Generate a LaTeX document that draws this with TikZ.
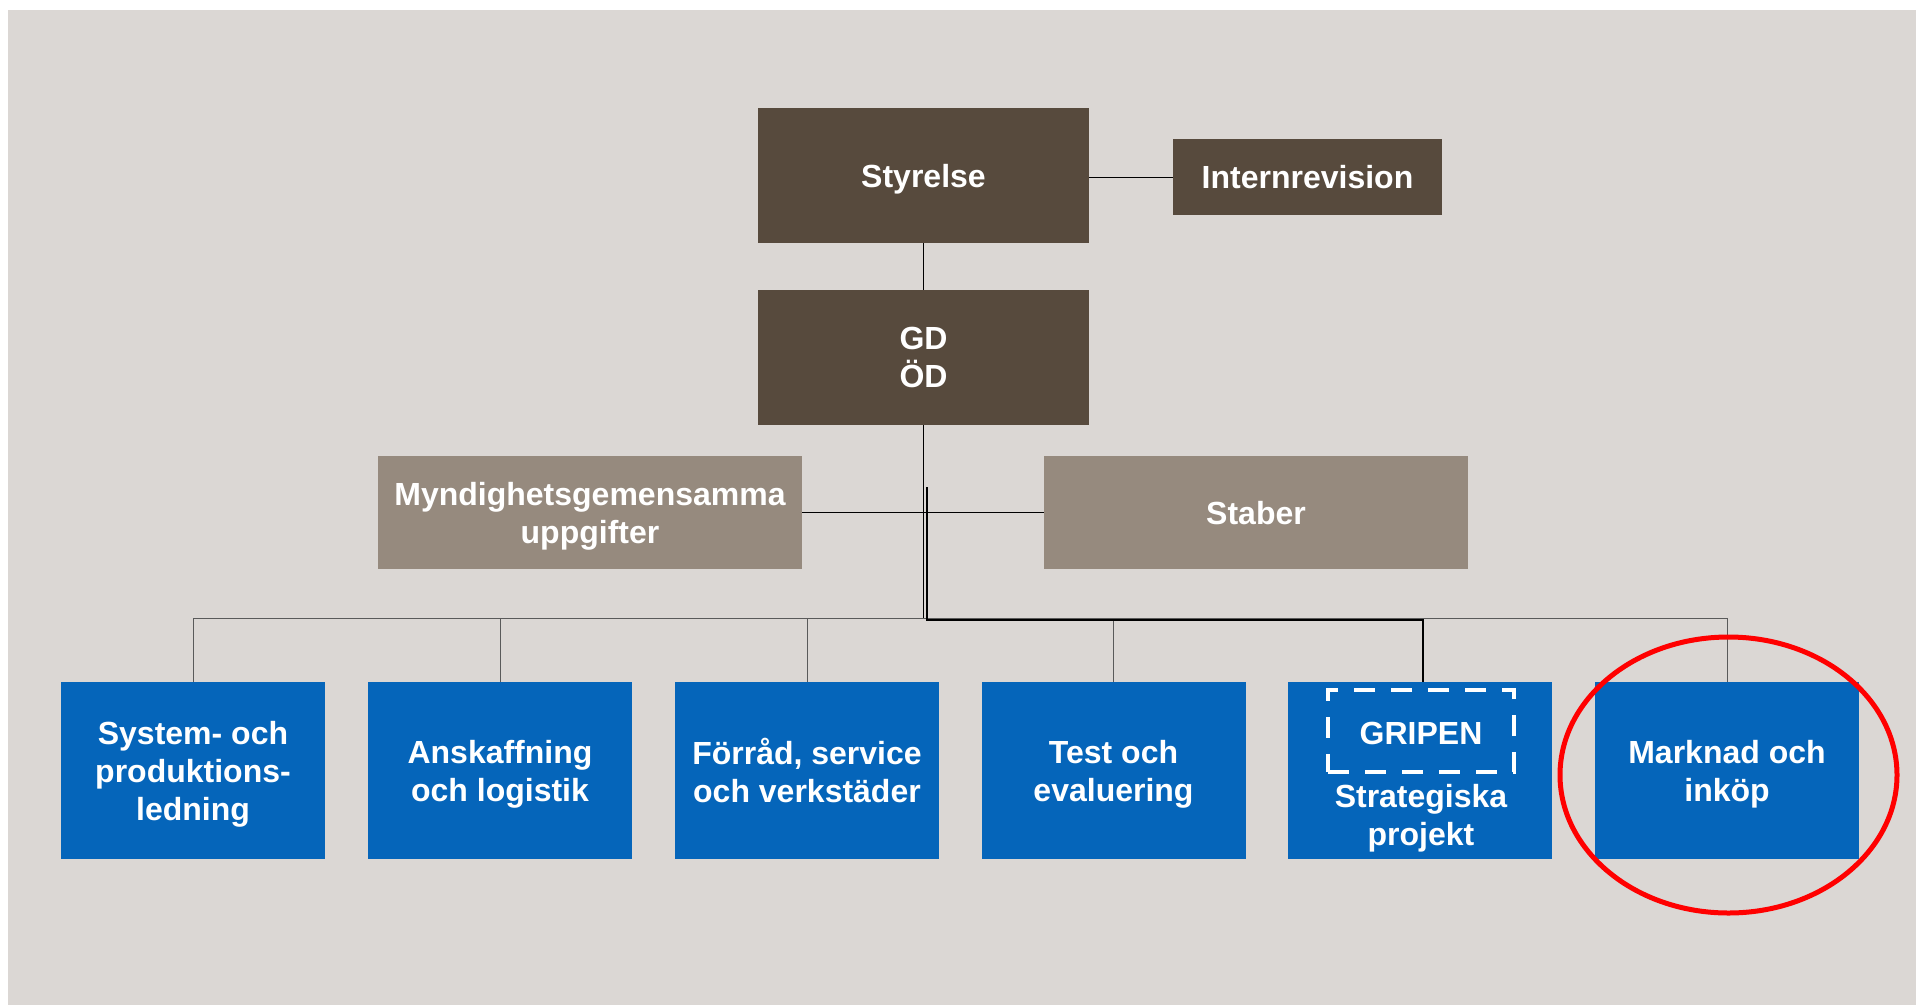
\documentclass[tikz,border=0pt]{standalone}
\usepackage{fontspec}
\setmainfont{Liberation Sans}
\definecolor{bgc}{HTML}{DBD7D4}
\definecolor{darkc}{HTML}{574A3D}
\definecolor{midc}{HTML}{968A7E}
\definecolor{bluec}{HTML}{0565BA}
\definecolor{linec}{HTML}{5A5A5A}
\definecolor{redc}{HTML}{FF0000}
\begin{document}
\begin{tikzpicture}[x=1pt,y=-1pt,
  box/.style={rectangle, inner sep=0pt, text=white, align=center, text depth=0pt,
    font=\bfseries\fontsize{32}{38}\selectfont},
  darkbox/.style={box, fill=darkc},
  midbox/.style={box, fill=midc},
  bluebox/.style={box, fill=bluec, minimum width=264pt, minimum height=177pt},
  conn/.style={draw=black, line width=1pt},
  branch/.style={draw=linec, line width=1pt},
  thickconn/.style={draw=black, line width=2pt},
  gripenbox/.style={rectangle, draw=white, line width=4.5pt, dash pattern=on 21pt off 16pt,
    minimum width=186pt, minimum height=82pt, inner sep=0pt},
  marker/.style={draw=redc, line width=5pt}
]
\useasboundingbox (0,0) rectangle (1916,1005);
\fill[white] (0,0) rectangle (1916,1005);
\fill[bgc] (8,10) rectangle (1916,1005);

% top levels
\node[darkbox, minimum width=331pt, minimum height=135pt] (sty) at (923.5,175.5) {Styrelse};
\node[darkbox, minimum width=269pt, minimum height=76pt] (intr) at (1307.5,177) {Internrevision};
\node[darkbox, minimum width=331pt, minimum height=135pt] (gd) at (923.5,357.5) {GD\\ÖD};
\node[midbox, minimum width=424pt, minimum height=113pt] (myn) at (590,512.5) {Myndighetsgemensamma\\uppgifter};
\node[midbox, minimum width=424pt, minimum height=113pt] (stab) at (1256,512.5) {Staber};

% bottom row
\node[bluebox] (b1) at (193,770.5) {System- och\\produktions-\\ledning};
\node[bluebox] (b2) at (500,770.5) {Anskaffning\\och logistik};
\node[bluebox] (b3) at (807,770.5) {Förråd, service\\och verkstäder};
\node[bluebox] (b4) at (1113.5,770.5) {Test och\\evaluering};
\node[bluebox] (b5) at (1420,770.5) {};
\node[bluebox] (b6) at (1727,770.5) {Marknad och\\inköp};

\node[gripenbox] (grip) at (1421,731) {};
\node[box] (gripl) at (1421,733) {GRIPEN};
\node[box] (strat) at (1421,815) {Strategiska\\projekt};

% connectors
\coordinate (bus) at (923.5,618);
\coordinate (tk) at (926.5,487);
\coordinate (tkend) at ([xshift=3pt]b5.north);
\draw[conn] (intr.west) -- (intr.west -| sty.east);
\draw[conn] (sty.south) -- (gd.north);
\draw[conn] (gd.south) -- (bus);
\draw[conn, line width=1.4pt] (myn.east) -- (stab.west);
\draw[branch] (b1.north) |- (bus) -| (b6.north);
\draw[branch] (b2.north) -- (b2.north |- bus);
\draw[branch] (b3.north) -- (b3.north |- bus);
\draw[branch] (b4.north) -- (b4.north |- bus);
\draw[thickconn] (tk) |- ([yshift=-1.5pt]tkend |- bus) -- (tkend);

% highlight
\draw[marker] (1728.5,775) ellipse [x radius=168.5pt, y radius=138pt];
\end{tikzpicture}
\end{document}
